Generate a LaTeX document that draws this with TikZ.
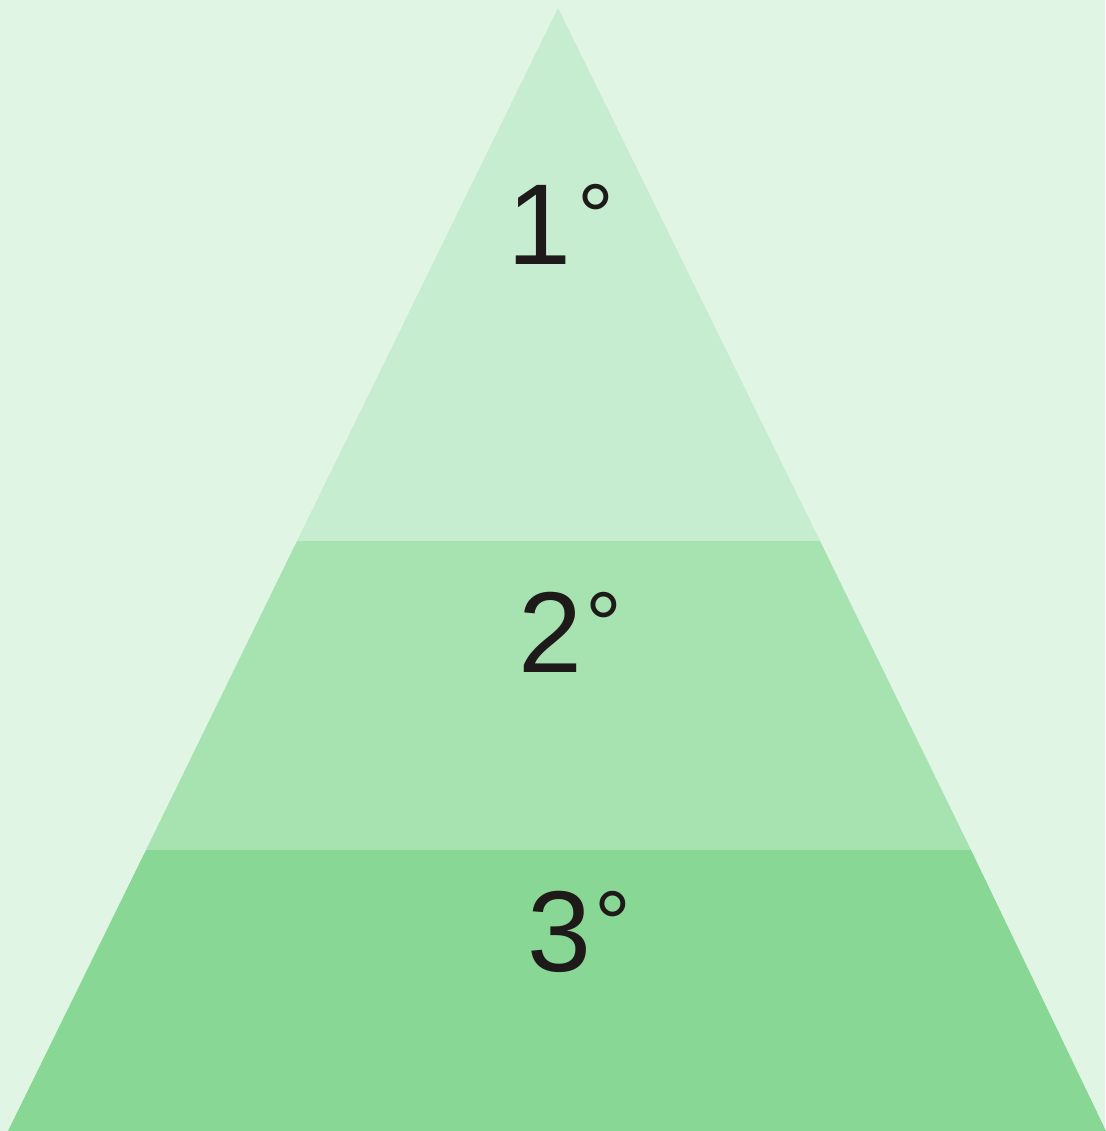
\documentclass[tikz,border=0pt]{standalone}
\usepackage{fontspec}
\setmainfont{Liberation Sans}
\definecolor{bgc}{HTML}{E0F5E4}
\definecolor{tierA}{HTML}{C6EDD0}
\definecolor{tierB}{HTML}{A7E3B1}
\definecolor{tierC}{HTML}{89D795}
\definecolor{txt}{HTML}{1E1A1A}
\newcommand{\degsmall}{\hspace{3pt}\raisebox{16pt}{\fontsize{92}{96}\selectfont °}}
\begin{document}
\begin{tikzpicture}[x=1pt,y=1pt,
  lbl/.style={text=txt,font=\fontsize{115}{120}\selectfont,inner sep=0pt,anchor=center}]
\fill[bgc] (0,0) rectangle (1105,1131);
\useasboundingbox (0,0) rectangle (1105,1131);
% tiers
\fill[tierC] (8,0) -- (1106,0) -- (971,281) -- (146,281) -- cycle;
\fill[tierB] (146,281) -- (971,281) -- (820,590) -- (297,590) -- cycle;
\fill[tierA] (297,590) -- (820,590) -- (558,1123) -- cycle;
\node[lbl] (t1) at (561,907) {1\hspace{3pt}\degsmall};
\node[lbl] (t2) at (570,499) {2\degsmall};
\node[lbl] (t3) at (579,199) {3\degsmall};
\end{tikzpicture}
\end{document}
